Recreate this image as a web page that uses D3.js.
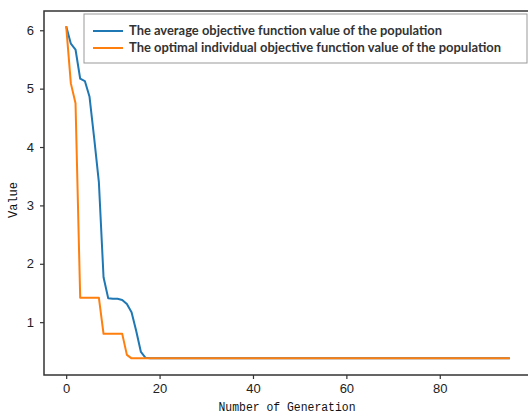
<!DOCTYPE html>
<html>
<head>
<meta charset="utf-8">
<script src="https://cdn.jsdelivr.net/npm/d3@7"></script>
<style>
  body { margin: 0; background: #fff; }
  svg { display: block; }
</style>
</head>
<body>
<div id="chart"></div>
<script>
// generations 0..95
const avgValues = [
  6.07, 5.77, 5.67, 5.17, 5.13, 4.86, 4.15, 3.40, 1.77, 1.41,
  1.40, 1.40, 1.38, 1.31, 1.17, 0.85, 0.49, 0.39, 0.38, 0.38,
  0.38, 0.38, 0.38, 0.38, 0.38, 0.38, 0.38, 0.38, 0.38, 0.38,
  0.38, 0.38, 0.38, 0.38, 0.38, 0.38, 0.38, 0.38, 0.38, 0.38,
  0.38, 0.38, 0.38, 0.38, 0.38, 0.38, 0.38, 0.38, 0.38, 0.38,
  0.38, 0.38, 0.38, 0.38, 0.38, 0.38, 0.38, 0.38, 0.38, 0.38,
  0.38, 0.38, 0.38, 0.38, 0.38, 0.38, 0.38, 0.38, 0.38, 0.38,
  0.38, 0.38, 0.38, 0.38, 0.38, 0.38, 0.38, 0.38, 0.38, 0.38,
  0.38, 0.38, 0.38, 0.38, 0.38, 0.38, 0.38, 0.38, 0.38, 0.38,
  0.38, 0.38, 0.38, 0.38, 0.38, 0.38
];
const bestValues = [
  6.07, 5.09, 4.75, 1.42, 1.42, 1.42, 1.42, 1.42, 0.80, 0.80,
  0.80, 0.80, 0.80, 0.44, 0.38, 0.38, 0.38, 0.38, 0.38, 0.38,
  0.38, 0.38, 0.38, 0.38, 0.38, 0.38, 0.38, 0.38, 0.38, 0.38,
  0.38, 0.38, 0.38, 0.38, 0.38, 0.38, 0.38, 0.38, 0.38, 0.38,
  0.38, 0.38, 0.38, 0.38, 0.38, 0.38, 0.38, 0.38, 0.38, 0.38,
  0.38, 0.38, 0.38, 0.38, 0.38, 0.38, 0.38, 0.38, 0.38, 0.38,
  0.38, 0.38, 0.38, 0.38, 0.38, 0.38, 0.38, 0.38, 0.38, 0.38,
  0.38, 0.38, 0.38, 0.38, 0.38, 0.38, 0.38, 0.38, 0.38, 0.38,
  0.38, 0.38, 0.38, 0.38, 0.38, 0.38, 0.38, 0.38, 0.38, 0.38,
  0.38, 0.38, 0.38, 0.38, 0.38, 0.38
];
const xTicks = [0, 20, 40, 60, 80];
const yTicks = [1, 2, 3, 4, 5, 6];
const seriesNames = [
  'The average objective function value of the population',
  'The optimal individual objective function value of the population'
];

const width = 528;
const height = 416;
const plotLeft = 44, plotTop = 11, plotBottom = 375, plotRight = 532;

const svg = d3.select('#chart')
  .append('svg')
  .attr('width', width)
  .attr('height', height)
  .style('overflow', 'hidden');

const x = d3.scaleLinear().domain([-4.75, 99.75]).range([plotLeft, plotRight]);
const y = d3.scaleLinear().domain([0.095, 6.33]).range([plotBottom, plotTop]);

const series = [
  { name: seriesNames[0], values: avgValues, color: '#1f77b4' },
  { name: seriesNames[1], values: bestValues, color: '#ff7f0e' }
];

// Lines
const line = d3.line()
  .x((d, i) => x(i))
  .y(d => y(d));

svg.append('g')
  .selectAll('path')
  .data(series)
  .enter()
  .append('path')
  .attr('fill', 'none')
  .attr('stroke', d => d.color)
  .attr('stroke-width', 2)
  .attr('stroke-linejoin', 'round')
  .attr('d', d => line(d.values));

// Axes
const xAxis = svg.append('g')
  .attr('transform', `translate(0,${plotBottom})`)
  .call(d3.axisBottom(x).tickValues(xTicks).tickFormat(d3.format('d')).tickSize(4).tickPadding(5));

const yAxis = svg.append('g')
  .attr('transform', `translate(${plotLeft},0)`)
  .call(d3.axisLeft(y).tickValues(yTicks).tickFormat(d3.format('d')).tickSize(4).tickPadding(6));

[xAxis, yAxis].forEach(ax => {
  ax.select('.domain').remove();
  ax.selectAll('.tick line').attr('stroke', '#333').attr('stroke-width', 1.2);
  ax.selectAll('.tick text')
    .attr('fill', '#222')
    .style('font-family', '"Liberation Sans", sans-serif')
    .style('font-size', '13px');
});

// Frame (right side is cut off by the window)
svg.append('rect')
  .attr('x', plotLeft)
  .attr('y', plotTop)
  .attr('width', plotRight - plotLeft)
  .attr('height', plotBottom - plotTop)
  .attr('fill', 'none')
  .attr('stroke', '#333')
  .attr('stroke-width', 1.5);

// Axis labels
svg.append('text')
  .attr('x', 287)
  .attr('y', 411)
  .attr('text-anchor', 'middle')
  .style('font-family', '"Liberation Mono", monospace')
  .style('font-size', '12px')
  .attr('fill', '#111')
  .attr('textLength', 137)
  .attr('lengthAdjust', 'spacingAndGlyphs')
  .text('Number of Generation');

svg.append('text')
  .attr('transform', 'translate(17,200) rotate(-90)')
  .attr('text-anchor', 'middle')
  .style('font-family', '"Liberation Mono", monospace')
  .style('font-size', '12px')
  .attr('fill', '#111')
  .text('Value');

// Legend
const legend = svg.append('g');
legend.append('rect')
  .attr('x', 84)
  .attr('y', 14)
  .attr('width', 443)
  .attr('height', 49)
  .attr('fill', '#fff')
  .attr('stroke', '#999')
  .attr('stroke-width', 1);

const item = legend.selectAll('g.item')
  .data(series)
  .enter()
  .append('g')
  .attr('class', 'item')
  .attr('transform', (d, i) => `translate(0,${31 + i * 17})`);

item.append('line')
  .attr('x1', 93)
  .attr('x2', 123)
  .attr('stroke', d => d.color)
  .attr('stroke-width', 2);

item.append('text')
  .attr('x', 129)
  .attr('dy', '0.35em')
  .style('font-family', 'Lato, sans-serif')
  .style('font-size', '12.5px')
  .style('font-weight', 'bold')
  .attr('fill', '#333')
  .attr('textLength', (d, i) => i === 0 ? 313 : 372)
  .attr('lengthAdjust', 'spacingAndGlyphs')
  .text(d => d.name);
</script>
</body>
</html>
